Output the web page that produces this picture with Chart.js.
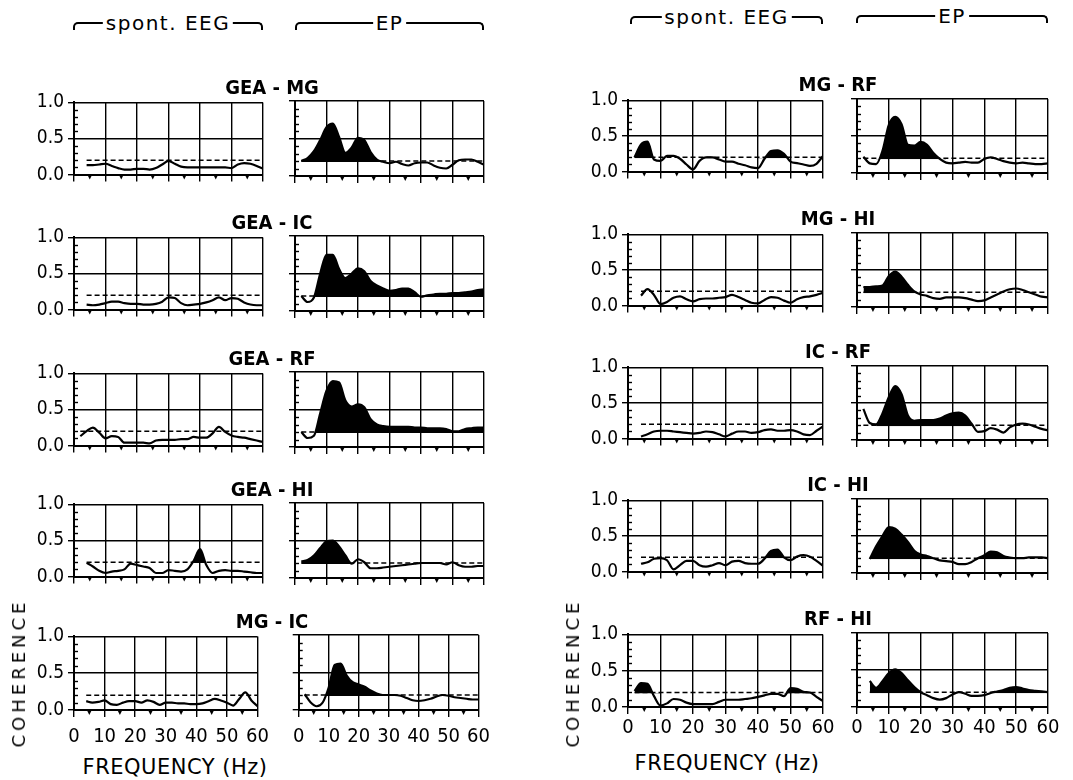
<!DOCTYPE html>
<html>
<head>
<meta charset="utf-8">
<title>Coherence spectra</title>
<script src="https://cdn.jsdelivr.net/npm/chart.js@4/dist/chart.umd.min.js"></script>
<style>
  body { margin: 0; background: #fff; width: 1073px; height: 780px; position: relative; overflow: hidden; color: #000; }
  canvas { position: absolute; }
  .pair { position: absolute; transform: translate(-50%, -50%); font: bold 20px 'DejaVu Sans Condensed', 'DejaVu Sans', sans-serif; white-space: pre; line-height: 24px; }
  .brk { position: absolute; height: 6px; border: 2px solid #000; border-bottom: none; border-radius: 5px 5px 0 0; }
  .brk span { position: absolute; left: 50%; top: -13px; transform: translateX(-50%); background: #fff; padding: 0 3px; font: 20px 'DejaVu Sans', sans-serif; letter-spacing: 1.5px; line-height: 24px; white-space: pre; }
  .ylab { position: absolute; transform: translate(-50%, -50%) rotate(-90deg); font: 18px 'DejaVu Sans', sans-serif; letter-spacing: 4px; white-space: pre; line-height: 20px; }
  .xlab { position: absolute; transform: translate(-50%, -50%); font: 21px 'DejaVu Sans', sans-serif; letter-spacing: 0.5px; white-space: pre; line-height: 24px; }
</style>
</head>
<body>
<script>
// Frequency grid (Hz) shared by every spectrum
const FREQ = [2, 4, 6, 8, 10, 12, 14, 16, 18, 20, 22, 24, 26, 28, 30, 32, 34, 36, 38, 40, 42, 44, 46, 48, 50, 52, 54, 56, 58, 60];
const THRESHOLD = 0.2;
const Y_MINOR = [0.1, 0.2, 0.3, 0.4, 0.6, 0.7, 0.8, 0.9];
const X_MINOR = [5, 15, 25, 35, 45, 55];

const PAIRS_LEFT = ['GEA - MG', 'GEA - IC', 'GEA - RF', 'GEA - HI', 'MG - IC'];
const PAIRS_RIGHT = ['MG - RF', 'MG - HI', 'IC - RF', 'IC - HI', 'RF - HI'];

// Coherence, spontaneous EEG (left) and evoked potentials (right), per structure pair
const gea_mg_eeg = [null, 0.13, 0.13, 0.14, 0.15, 0.12, 0.09, 0.07, 0.07, 0.08, 0.08, 0.07, 0.09, 0.14, 0.19, 0.15, 0.11, 0.10, 0.10, 0.10, 0.10, 0.10, 0.10, 0.10, 0.09, 0.14, 0.16, 0.15, 0.12, 0.08];
const gea_mg_ep  = [0.20, 0.24, 0.33, 0.48, 0.65, 0.70, 0.52, 0.31, 0.38, 0.51, 0.48, 0.32, 0.22, 0.19, 0.17, 0.19, 0.16, 0.14, 0.17, 0.18, 0.18, 0.14, 0.11, 0.10, 0.15, 0.21, 0.22, 0.22, 0.19, 0.15];
const gea_ic_eeg = [null, 0.07, 0.06, 0.07, 0.09, 0.11, 0.11, 0.09, 0.08, 0.08, 0.07, 0.07, 0.08, 0.11, 0.17, 0.16, 0.09, 0.06, 0.07, 0.08, 0.10, 0.13, 0.17, 0.13, 0.16, 0.15, 0.10, 0.07, 0.06, 0.06];
const gea_ic_ep  = [0.20, 0.12, 0.18, 0.50, 0.75, 0.75, 0.56, 0.44, 0.50, 0.57, 0.53, 0.40, 0.34, 0.30, 0.27, 0.28, 0.30, 0.30, 0.25, 0.19, 0.21, 0.22, 0.23, 0.23, 0.24, 0.24, 0.25, 0.26, 0.28, 0.29];
const gea_rf_eeg = [0.13, 0.20, 0.25, 0.18, 0.10, 0.13, 0.12, 0.04, 0.04, 0.04, 0.04, 0.03, 0.07, 0.08, 0.08, 0.08, 0.09, 0.09, 0.12, 0.11, 0.11, 0.17, 0.26, 0.19, 0.14, 0.12, 0.11, 0.09, 0.07, 0.05];
const gea_rf_ep  = [0.20, 0.12, 0.15, 0.45, 0.75, 0.88, 0.86, 0.62, 0.54, 0.57, 0.53, 0.37, 0.30, 0.28, 0.27, 0.27, 0.27, 0.27, 0.26, 0.26, 0.25, 0.25, 0.25, 0.24, 0.21, 0.21, 0.24, 0.25, 0.26, 0.26];
const gea_hi_eeg = [null, 0.19, 0.14, 0.08, 0.05, 0.07, 0.08, 0.10, 0.18, 0.16, 0.14, 0.12, 0.05, 0.05, 0.09, 0.08, 0.07, 0.10, 0.22, 0.38, 0.16, 0.05, 0.08, 0.09, 0.08, 0.08, 0.07, 0.06, 0.05, 0.05];
const gea_hi_ep  = [0.22, 0.24, 0.30, 0.40, 0.49, 0.50, 0.42, 0.30, 0.19, 0.25, 0.21, 0.13, 0.13, 0.14, 0.15, 0.16, 0.17, 0.18, 0.19, 0.20, 0.20, 0.20, 0.20, 0.18, 0.21, 0.17, 0.15, 0.15, 0.16, 0.16];
const mg_ic_eeg  = [null, 0.12, 0.10, 0.11, 0.13, 0.08, 0.07, 0.10, 0.12, 0.12, 0.10, 0.13, 0.11, 0.07, 0.10, 0.10, 0.09, 0.09, 0.08, 0.08, 0.09, 0.12, 0.15, 0.13, 0.10, 0.06, 0.15, 0.24, 0.13, 0.05];
const mg_ic_ep   = [0.21, 0.10, 0.05, 0.10, 0.30, 0.60, 0.62, 0.46, 0.37, 0.34, 0.31, 0.26, 0.22, 0.20, 0.20, 0.20, 0.19, 0.16, 0.13, 0.12, 0.13, 0.15, 0.18, 0.20, 0.19, 0.17, 0.16, 0.15, 0.14, 0.14];
const mg_rf_eeg  = [0.20, 0.38, 0.42, 0.17, 0.15, 0.22, 0.22, 0.18, 0.10, 0.03, 0.15, 0.20, 0.20, 0.17, 0.14, 0.14, 0.11, 0.09, 0.06, 0.05, 0.18, 0.29, 0.30, 0.25, 0.14, 0.12, 0.10, 0.08, 0.11, 0.22];
const mg_rf_ep   = [0.22, 0.13, 0.12, 0.30, 0.65, 0.76, 0.66, 0.38, 0.37, 0.42, 0.38, 0.27, 0.19, 0.14, 0.13, 0.14, 0.15, 0.14, 0.14, 0.19, 0.21, 0.19, 0.16, 0.14, 0.13, 0.14, 0.13, 0.12, 0.12, 0.13];
const mg_hi_eeg  = [null, 0.14, 0.23, 0.15, 0.02, 0.05, 0.11, 0.13, 0.09, 0.06, 0.09, 0.10, 0.10, 0.11, 0.12, 0.15, 0.12, 0.08, 0.04, 0.03, 0.08, 0.12, 0.11, 0.07, 0.04, 0.09, 0.12, 0.13, 0.15, 0.18];
const mg_hi_ep   = [0.27, 0.27, 0.28, 0.29, 0.42, 0.48, 0.41, 0.30, 0.21, 0.17, 0.15, 0.12, 0.11, 0.13, 0.13, 0.13, 0.12, 0.10, 0.08, 0.09, 0.13, 0.17, 0.21, 0.24, 0.25, 0.23, 0.20, 0.17, 0.14, 0.13];
const ic_rf_eeg  = [null, 0.03, 0.06, 0.10, 0.11, 0.11, 0.10, 0.09, 0.08, 0.07, 0.08, 0.10, 0.09, 0.06, 0.03, 0.07, 0.10, 0.10, 0.08, 0.09, 0.12, 0.13, 0.11, 0.11, 0.12, 0.10, 0.06, 0.05, 0.11, 0.17];
const ic_rf_ep   = [0.42, 0.23, 0.21, 0.36, 0.58, 0.73, 0.62, 0.33, 0.26, 0.27, 0.27, 0.27, 0.29, 0.33, 0.36, 0.37, 0.33, 0.22, 0.11, 0.12, 0.16, 0.14, 0.10, 0.17, 0.21, 0.22, 0.21, 0.18, 0.15, 0.13];
const ic_hi_eeg  = [null, 0.11, 0.13, 0.18, 0.19, 0.16, 0.03, 0.09, 0.15, 0.15, 0.09, 0.07, 0.09, 0.12, 0.09, 0.14, 0.15, 0.12, 0.11, 0.11, 0.18, 0.29, 0.31, 0.20, 0.16, 0.21, 0.23, 0.21, 0.15, 0.08];
const ic_hi_ep   = [null, 0.19, 0.36, 0.50, 0.62, 0.60, 0.52, 0.42, 0.30, 0.25, 0.23, 0.20, 0.17, 0.16, 0.15, 0.12, 0.12, 0.15, 0.20, 0.24, 0.29, 0.28, 0.23, 0.21, 0.20, 0.20, 0.21, 0.21, 0.21, 0.20];
const rf_hi_eeg  = [0.22, 0.33, 0.32, 0.15, 0.02, 0.05, 0.11, 0.10, 0.06, 0.04, 0.04, 0.04, 0.04, 0.07, 0.10, 0.10, 0.10, 0.11, 0.12, 0.14, 0.16, 0.18, 0.18, 0.15, 0.26, 0.25, 0.21, 0.20, 0.14, 0.08];
const rf_hi_ep   = [null, 0.35, 0.26, 0.35, 0.46, 0.51, 0.46, 0.36, 0.27, 0.20, 0.16, 0.12, 0.10, 0.12, 0.17, 0.20, 0.18, 0.15, 0.15, 0.16, 0.19, 0.21, 0.23, 0.26, 0.27, 0.25, 0.23, 0.22, 0.21, 0.20];

// Frequency bands (Hz) of significant coherence, shaded black above the threshold
const gea_mg_ep_sig = [[2, 28]];
const gea_ic_ep_sig = [[4, 60]];
const gea_rf_ep_sig = [[4, 60]];
const gea_hi_eeg_sig = [[36, 44]];
const gea_hi_ep_sig = [[2, 18]];
const mg_ic_ep_sig = [[8, 30]];
const mg_rf_eeg_sig = [[2, 8], [40, 50]];
const mg_rf_ep_sig = [[6, 28]];
const mg_hi_ep_sig = [[2, 20]];
const ic_rf_ep_sig = [[6, 38]];
const ic_hi_eeg_sig = [[40, 50]];
const ic_hi_ep_sig = [[4, 24], [36, 50]];
const rf_hi_eeg_sig = [[2, 10], [48, 56]];
const rf_hi_ep_sig = [[4, 20], [42, 60]];

const panels = [
  { half: 'L', row: 0, kind: 'eeg', values: gea_mg_eeg, sig: [] },
  { half: 'L', row: 0, kind: 'ep',  values: gea_mg_ep,  sig: gea_mg_ep_sig },
  { half: 'L', row: 1, kind: 'eeg', values: gea_ic_eeg, sig: [] },
  { half: 'L', row: 1, kind: 'ep',  values: gea_ic_ep,  sig: gea_ic_ep_sig },
  { half: 'L', row: 2, kind: 'eeg', values: gea_rf_eeg, sig: [] },
  { half: 'L', row: 2, kind: 'ep',  values: gea_rf_ep,  sig: gea_rf_ep_sig },
  { half: 'L', row: 3, kind: 'eeg', values: gea_hi_eeg, sig: gea_hi_eeg_sig },
  { half: 'L', row: 3, kind: 'ep',  values: gea_hi_ep,  sig: gea_hi_ep_sig },
  { half: 'L', row: 4, kind: 'eeg', values: mg_ic_eeg,  sig: [] },
  { half: 'L', row: 4, kind: 'ep',  values: mg_ic_ep,   sig: mg_ic_ep_sig },
  { half: 'R', row: 0, kind: 'eeg', values: mg_rf_eeg,  sig: mg_rf_eeg_sig },
  { half: 'R', row: 0, kind: 'ep',  values: mg_rf_ep,   sig: mg_rf_ep_sig },
  { half: 'R', row: 1, kind: 'eeg', values: mg_hi_eeg,  sig: [] },
  { half: 'R', row: 1, kind: 'ep',  values: mg_hi_ep,   sig: mg_hi_ep_sig },
  { half: 'R', row: 2, kind: 'eeg', values: ic_rf_eeg,  sig: [] },
  { half: 'R', row: 2, kind: 'ep',  values: ic_rf_ep,   sig: ic_rf_ep_sig },
  { half: 'R', row: 3, kind: 'eeg', values: ic_hi_eeg,  sig: ic_hi_eeg_sig },
  { half: 'R', row: 3, kind: 'ep',  values: ic_hi_ep,   sig: ic_hi_ep_sig },
  { half: 'R', row: 4, kind: 'eeg', values: rf_hi_eeg,  sig: rf_hi_eeg_sig },
  { half: 'R', row: 4, kind: 'ep',  values: rf_hi_ep,   sig: rf_hi_ep_sig }
];

// Page layout: plot-area edges in page pixels
const COLUMNS = {
  L: { eeg: [74, 263], ep: [295, 484] },
  R: { eeg: [628, 823], ep: [857, 1048] }
};
const ROW_TOP = { L: [101, 236, 372, 503, 635], R: [99, 233, 366, 499, 633] };
const ROW_H = { L: 75, R: 74 };
const PAD = { top: 14, right: 14, bottom: 4 };
const XLABEL_PAD = { L: 8, R: 2 };

const minorTicks = {
  id: 'minorTicks',
  afterDraw(chart) {
    const { ctx, chartArea: a } = chart;
    const x = chart.scales.x, y = chart.scales.y;
    ctx.save();
    ctx.strokeStyle = '#000';
    ctx.fillStyle = '#000';
    ctx.lineWidth = 1.4;
    Y_MINOR.forEach(v => {
      const py = Math.round(y.getPixelForValue(v)) + 0.5;
      ctx.beginPath();
      ctx.moveTo(a.left, py);
      ctx.lineTo(a.left + 4, py);
      ctx.stroke();
    });
    X_MINOR.forEach(f => {
      const px = x.getPixelForValue(f);
      ctx.beginPath();
      ctx.moveTo(px - 2, a.bottom + 1);
      ctx.lineTo(px + 2, a.bottom + 1);
      ctx.lineTo(px, a.bottom + 5);
      ctx.closePath();
      ctx.fill();
    });
    ctx.restore();
  }
};

function addPanel(p) {
  const [x0, x1] = COLUMNS[p.half][p.kind];
  const top = ROW_TOP[p.half][p.row];
  const h = ROW_H[p.half];
  const isEEG = p.kind === 'eeg';
  const isBottom = p.row === 4;
  const W = isEEG ? 52 : 10;
  const H = isBottom ? 40 : 10;
  const cw = W + (x1 - x0) + PAD.right;
  const ch = PAD.top + h + H + PAD.bottom;

  const cv = document.createElement('canvas');
  cv.width = cw; cv.height = ch;
  cv.style.width = cw + 'px'; cv.style.height = ch + 'px';
  cv.style.left = (x0 - W) + 'px';
  cv.style.top = (top - PAD.top) + 'px';
  document.body.appendChild(cv);

  const linePts = FREQ.map((f, i) => ({ x: f, y: p.values[i] }));
  const inSig = f => p.sig.some(([a, b]) => f >= a && f <= b);
  const sigPts = FREQ.map((f, i) => ({ x: f, y: inSig(f) ? p.values[i] : null }));
  const start = FREQ[p.values.findIndex(v => v !== null)];

  const gridStyle = { color: '#000', lineWidth: 1.4, tickColor: '#000', drawTicks: true };

  new Chart(cv, {
    type: 'line',
    data: {
      datasets: [
        // spectrum
        { data: linePts, borderColor: '#000', borderWidth: 2.2, pointRadius: 0, fill: false, cubicInterpolationMode: 'monotone' },
        // significant parts, filled down to (just under) the threshold line
        { data: sigPts, borderWidth: 0, borderColor: 'rgba(0,0,0,0)', pointRadius: 0, spanGaps: false, cubicInterpolationMode: 'monotone',
          fill: { target: { value: THRESHOLD - 0.013 }, above: '#000', below: 'rgba(0,0,0,0)' } },
        // significance threshold
        { data: [{ x: start, y: THRESHOLD }, { x: 60, y: THRESHOLD }], borderColor: '#000', borderWidth: 1.5, borderDash: [5, 3], pointRadius: 0, fill: false }
      ]
    },
    options: {
      responsive: false,
      animation: false,
      events: [],
      layout: { padding: { top: PAD.top, right: PAD.right, bottom: PAD.bottom, left: 0 } },
      plugins: { legend: { display: false }, tooltip: { enabled: false } },
      scales: {
        x: {
          type: 'linear', min: 0, max: 60,
          ticks: { stepSize: 10, display: isBottom, autoSkip: false, maxRotation: 0, color: '#000', padding: XLABEL_PAD[p.half],
                   font: { family: "'DejaVu Sans Condensed', 'DejaVu Sans', sans-serif", size: 20 } },
          grid: Object.assign({ tickLength: 7 }, gridStyle),
          border: { color: '#000', width: 2 },
          afterFit: s => { s.height = H; }
        },
        y: {
          type: 'linear', min: 0, max: 1,
          ticks: { stepSize: 0.5, display: isEEG, color: '#000', padding: 4, callback: v => v.toFixed(1),
                   font: { family: "'DejaVu Sans Condensed', 'DejaVu Sans', sans-serif", size: 19 } },
          grid: Object.assign({ tickLength: 6 }, gridStyle),
          border: { color: '#000', width: 2 },
          afterFit: s => { s.width = W; }
        }
      }
    },
    plugins: [minorTicks]
  });
}

panels.forEach(addPanel);

// Pair names between the EEG and EP panels of each row
function addText(cls, text, cx, cy) {
  const d = document.createElement('div');
  d.className = cls;
  d.textContent = text;
  d.style.left = cx + 'px';
  d.style.top = cy + 'px';
  document.body.appendChild(d);
}
PAIRS_LEFT.forEach((t, i) => addText('pair', t, 272, ROW_TOP.L[i] - 14));
PAIRS_RIGHT.forEach((t, i) => addText('pair', t, 838, ROW_TOP.R[i] - 15));

// Column headers with bracket lines
function addBracket(text, x0, x1, lineY) {
  const d = document.createElement('div');
  d.className = 'brk';
  d.style.left = x0 + 'px';
  d.style.width = (x1 - x0 - 4) + 'px';
  d.style.top = (lineY - 1) + 'px';
  const s = document.createElement('span');
  s.textContent = text;
  d.appendChild(s);
  document.body.appendChild(d);
}
addBracket('spont. EEG', 73, 263, 23);
addBracket('EP', 295, 484, 23);
addBracket('spont. EEG', 630, 823, 17);
addBracket('EP', 856, 1048, 16);

// Axis titles
addText('ylab', 'COHERENCE', 19, 673);
addText('ylab', 'COHERENCE', 573, 673);
addText('xlab', 'FREQUENCY (Hz)', 175, 767);
addText('xlab', 'FREQUENCY (Hz)', 727, 763);
</script>
</body>
</html>
